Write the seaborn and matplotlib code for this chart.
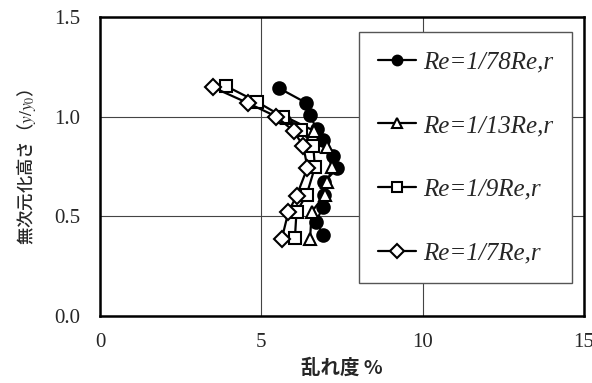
import matplotlib
matplotlib.use("Agg")
import matplotlib.pyplot as plt
import seaborn as sns
import pandas as pd

sns.set_theme(style="white")
plt.rcParams['font.family'] = ['Liberation Serif', 'Noto Sans CJK JP']
plt.rcParams['mathtext.fontset'] = 'stix'

labels = ["Re=1/78Re,r", "Re=1/13Re,r", "Re=1/9Re,r", "Re=1/7Re,r"]

x78 = [5.56, 6.38, 6.51, 6.71, 6.92, 7.21, 7.36, 6.95, 6.95, 6.90, 6.70, 6.92]
y78 = [1.142, 1.070, 1.008, 0.937, 0.883, 0.803, 0.741, 0.674, 0.607, 0.545, 0.473, 0.406]

x13 = [5.80, 6.62, 7.02, 7.18, 7.05, 6.97, 6.56, 6.51]
y13 = [0.995, 0.930, 0.850, 0.745, 0.670, 0.607, 0.523, 0.385]

x9 = [3.90, 4.86, 5.66, 6.23, 6.61, 6.66, 6.40, 6.09, 6.04]
y9 = [1.154, 1.075, 1.000, 0.933, 0.853, 0.746, 0.607, 0.523, 0.390]

x7 = [3.49, 4.60, 5.47, 6.00, 6.30, 6.43, 6.09, 5.84, 5.63]
y7 = [1.148, 1.067, 1.000, 0.928, 0.853, 0.744, 0.602, 0.523, 0.385]

xticks = [0, 5, 10, 15]
yticks = [0.0, 0.5, 1.0, 1.5]
ytick_labels = ["0.0", "0.5", "1.0", "1.5"]

series = [
    (x78, y78, 'o', 'black', 9),
    (x13, y13, '^', 'white', 9),
    (x9, y9, 's', 'white', 9),
    (x7, y7, 'D', 'white', 8),
]

fig = plt.figure(figsize=(5.92, 3.83), dpi=100)
ax = fig.add_axes([100/592, 1-316/383, 484/592, 299/383])

for (xs, ys, m, fc, ms), lab in zip(series, labels):
    df = pd.DataFrame({"x": xs, "y": ys})
    sns.lineplot(data=df, x="x", y="y", sort=False, estimator=None, ax=ax,
                 color='black', linewidth=1.6, marker=m, markersize=ms,
                 markerfacecolor=fc, markeredgecolor='black', markeredgewidth=1.5,
                 label=lab)

ax.set_xlim(0, 15)
ax.set_ylim(0, 1.5)
ax.set_xticks(xticks)
ax.set_xticklabels([str(t) for t in xticks])
ax.set_yticks(yticks)
ax.set_yticklabels(ytick_labels)
ax.tick_params(axis='x', labelsize=15, length=0, pad=12)
ax.tick_params(axis='y', labelsize=15, length=0, pad=14)
for lab in ax.get_xticklabels() + ax.get_yticklabels():
    lab.set_fontfamily('Liberation Serif')

ax.grid(True, color='#444444', linewidth=0.8)
for s in ax.spines.values():
    s.set_color('black')
    s.set_linewidth(1.8)
    s.set_visible(True)

ax.set_xlabel("乱れ度 %", fontfamily=['Noto Sans CJK JP', 'DejaVu Sans'],
              fontsize=14, fontweight='bold', labelpad=5)
ax.set_ylabel("無次元化高さ（$y/y_0$）", fontfamily=['Noto Sans CJK JP', 'DejaVu Sans'],
              fontsize=12.5, fontweight='medium', labelpad=12)

leg = ax.legend(loc='upper right', bbox_to_anchor=(572/592, 1-32/383),
                bbox_transform=fig.transFigure,
                prop={'family': 'Liberation Serif', 'style': 'italic', 'size': 18},
                frameon=True, fancybox=False, framealpha=1, edgecolor='#555555',
                handlelength=1.5, handletextpad=0.3, labelspacing=1.65,
                borderpad=0.75, borderaxespad=0)
leg.get_frame().set_linewidth(1.0)
for h in leg.legend_handles:
    h.set_markersize(7)

fig.savefig("out.png", dpi=100)
